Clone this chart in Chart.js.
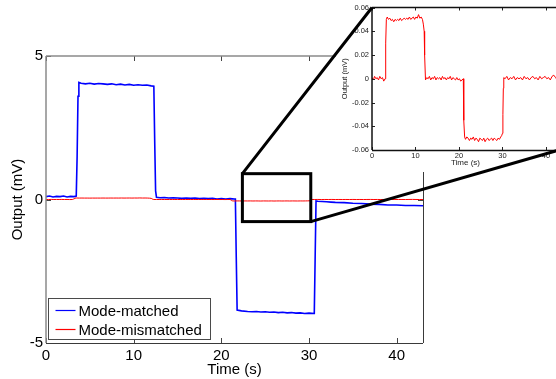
<!DOCTYPE html>
<html>
<head>
<meta charset="utf-8">
<script src="https://cdn.jsdelivr.net/npm/chart.js@4.4.0/dist/chart.umd.min.js"></script>
<style>
html, body { margin: 0; padding: 0; background: #fff; overflow: hidden; }
#wrap { position: relative; width: 556px; height: 379px; overflow: hidden; }
#main { position: absolute; left: 0; top: 0; }
#inset { position: absolute; left: 336px; top: 0; }
#links { position: absolute; left: 0; top: 0; pointer-events: none; }
</style>
</head>
<body>
<div id="wrap">
  <canvas id="main" width="556" height="379"></canvas>
  <canvas id="inset" width="240" height="172"></canvas>
  <canvas id="links" width="556" height="379"></canvas>
</div>
<script>
const seriesNames = ['Mode-matched', 'Mode-mismatched'];
const xTicks = [0, 10, 20, 30, 40];
const xTickLabels = ['0', '10', '20', '30', '40'];
const yTicks = [-5, 0, 5];
const yTickLabels = ['-5', '0', '5'];
const insetYTicks = [-0.06, -0.04, -0.02, 0, 0.02, 0.04, 0.06];
const insetYLabels = ['-0.06', '-0.04', '-0.02', '0', '0.02', '0.04', '0.06'];
// zoomed window drawn on the main plot: x from, x to, y from, y to
const zoomWindow = [22.4, 30.2, -0.77, 0.9];

// mode-matched output (mV)
const timeMatched = [0, 0.4, 0.8, 1.2, 1.6, 2.0, 2.4, 2.8, 3.2, 3.45, 3.55, 3.65, 3.75,
  4.0, 4.5, 5.0, 5.5, 6.0, 6.5, 7.0, 7.5, 8.0, 8.5, 9.0, 9.5, 10.0, 10.5, 11.0, 11.5, 12.0, 12.3,
  12.4, 12.5, 12.6, 13.0, 13.5, 14.0, 14.5, 15.0, 15.5, 16.0, 16.5, 17.0, 17.5, 18.0, 18.5,
  19.0, 19.5, 20.0, 20.5, 21.0, 21.5, 21.6, 21.7, 21.8,
  22.3, 23.0, 23.5, 24.0, 24.5, 25.0, 25.5, 26.0, 26.5, 27.0, 27.5, 28.0, 28.5, 29.0, 29.5, 30.0, 30.6,
  30.7, 30.8, 31.0, 31.5, 32.0, 32.5, 33, 34, 35, 36, 37, 38, 39, 40, 41, 42, 43];
const matched = [0.10, 0.12, 0.09, 0.11, 0.10, 0.12, 0.09, 0.11, 0.10, 0.12, 1.5, 3.6, 4.08,
  4.05, 4.03, 4.05, 4.02, 4.04, 4.03, 4.01, 4.03, 4.00, 4.02, 3.99, 4.01, 3.98, 4.00, 3.98, 3.99, 3.96, 3.95,
  2.0, 0.3, 0.08, 0.06, 0.07, 0.05, 0.06, 0.05, 0.04, 0.05, 0.04, 0.05, 0.03, 0.04, 0.03,
  0.04, 0.02, 0.03, 0.02, 0.03, 0.02, 0.02, -2.0, -3.85,
  -3.88, -3.90, -3.91, -3.90, -3.92, -3.91, -3.93, -3.92, -3.94, -3.93, -3.95, -3.94, -3.96, -3.95, -3.97, -3.96, -3.97,
  -2.0, -0.05, -0.06, -0.07, -0.08, -0.09, -0.10, -0.11, -0.13, -0.14, -0.16, -0.17, -0.19, -0.19, -0.21, -0.21, -0.22];

// mode-mismatched output (mV)
const timeMismatched = [0, 0.3, 0.6, 0.9, 1.2, 1.5, 1.8, 2.1, 2.4, 2.7, 3.0, 3.1, 3.2, 3.3,
  3.5, 3.8, 4.1, 4.4, 4.7, 5.0, 5.3, 5.6, 5.9, 6.2, 6.5, 6.8, 7.1, 7.4, 7.7, 8.0, 8.3, 8.6, 8.9,
  9.2, 9.5, 9.8, 10.1, 10.4, 10.7, 11.0, 11.3, 11.6, 11.8, 12.0, 12.1, 12.3,
  12.6, 12.9, 13.2, 13.5, 13.8, 14.1, 14.4, 14.7, 15.0, 15.3, 15.6, 15.9, 16.2, 16.5, 16.8, 17.1,
  17.4, 17.7, 18.0, 18.3, 18.6, 18.9, 19.2, 19.5, 19.8, 20.1, 20.4, 20.7, 21.0, 21.05, 21.15, 21.3,
  21.5, 21.8, 22.1, 22.4, 22.7, 23.0, 23.3, 23.6, 23.9, 24.2, 24.5, 24.8, 25.1, 25.4, 25.7, 26.0,
  26.3, 26.6, 26.9, 27.2, 27.5, 27.8, 28.1, 28.4, 28.7, 29.0, 29.3, 29.6, 29.8, 30.0, 30.1, 30.2, 30.3,
  30.6, 31.0, 31.4, 31.8, 32.2, 32.6, 33.0, 33.4, 33.8, 34.2, 34.6, 35.0, 35.4, 35.8, 36.2, 36.6,
  37.0, 37.4, 37.8, 38.2, 38.6, 39.0, 39.4, 39.8, 40.2, 40.6, 41.0, 41.4, 41.8, 42.2, 42.6, 43.0];
const mismatched = [0.001, -0.001, 0.002, 0.000, 0.001, -0.001, 0.002, 0.000, 0.001, -0.002, 0.000, 0.008, 0.030, 0.050,
  0.052, 0.050, 0.051, 0.049, 0.050, 0.048, 0.050, 0.049, 0.050, 0.049, 0.051, 0.049, 0.050, 0.051, 0.050, 0.051, 0.050, 0.052, 0.050,
  0.051, 0.052, 0.050, 0.052, 0.051, 0.054, 0.051, 0.052, 0.050, 0.046, 0.040, 0.020, -0.001,
  0.001, 0.000, 0.002, -0.001, 0.001, 0.000, 0.002, -0.001, 0.001, 0.000, 0.001, -0.001, 0.002, 0.000, 0.001, -0.001,
  0.001, 0.000, 0.002, -0.001, 0.001, 0.000, -0.001, 0.001, -0.001, 0.000, -0.002, -0.001, 0.000, -0.010, -0.035, -0.049,
  -0.051, -0.049, -0.050, -0.052, -0.050, -0.051, -0.049, -0.052, -0.050, -0.051, -0.053, -0.050, -0.051, -0.052, -0.050, -0.053,
  -0.051, -0.050, -0.052, -0.051, -0.050, -0.052, -0.050, -0.051, -0.052, -0.050, -0.051, -0.049, -0.048, -0.046, -0.030, -0.008, 0.001,
  0.000, 0.002, -0.001, 0.001, 0.000, 0.002, -0.001, 0.001, 0.000, 0.001, -0.001, 0.002, 0.000, 0.001, -0.001, 0.001,
  0.002, 0.000, 0.001, -0.001, 0.002, 0.000, 0.001, 0.002, 0.000, 0.001, -0.001, 0.002, 0.003, 0.001, -0.001, -0.001];

const FONT = '"Liberation Sans", Arial, sans-serif';
const seriesColors = ['#0000ff', '#ff0000'];

function toPoints(t, v) {
    return t.map((x, i) => ({ x: x, y: v[i] }));
}

function setTicks(values) {
    return function(scale) {
        scale.ticks = values.map(v => ({ value: v }));
    };
}

// white page behind each canvas
const whiteBg = {
    id: 'whiteBg',
    beforeDraw(chart) {
        const ctx = chart.ctx;
        ctx.save();
        ctx.fillStyle = '#fff';
        ctx.fillRect(0, 0, chart.width, chart.height);
        ctx.restore();
    }
};

// MATLAB style box with inward ticks
function boxPlugin(o) {
    return {
        id: 'box',
        afterDatasetsDraw(chart) {
            const { ctx, chartArea: a, scales } = chart;
            ctx.save();
            ctx.strokeStyle = o.tickColor;
            ctx.lineWidth = 1;
            ctx.beginPath();
            scales.x.ticks.forEach(t => {
                const px = Math.round(scales.x.getPixelForValue(t.value)) + 0.5;
                ctx.moveTo(px, a.bottom); ctx.lineTo(px, a.bottom - o.tick);
                ctx.moveTo(px, a.top); ctx.lineTo(px, a.top + o.tick);
            });
            scales.y.ticks.forEach(t => {
                const py = Math.round(scales.y.getPixelForValue(t.value)) + 0.5;
                ctx.moveTo(a.left, py); ctx.lineTo(a.left + o.tick, py);
                ctx.moveTo(a.right, py); ctx.lineTo(a.right - o.tick, py);
            });
            ctx.stroke();
            const side = (c, w, x1, y1, x2, y2) => {
                ctx.strokeStyle = c; ctx.lineWidth = w;
                ctx.beginPath(); ctx.moveTo(x1, y1); ctx.lineTo(x2, y2); ctx.stroke();
            };
            side(o.light, o.lightW, a.left, a.top, a.left, a.bottom);
            side(o.light, o.lightW, a.left, a.top, a.right, a.top);
            side(o.dark, o.darkW, a.left, a.bottom + 0.5, a.right, a.bottom + 0.5);
            side(o.dark, o.darkW, a.right + 0.5, a.top, a.right + 0.5, a.bottom);
            ctx.restore();
        }
    };
}

const zoomBox = {
    id: 'zoomBox',
    afterDatasetsDraw(chart) {
        const { ctx, scales } = chart;
        const x1 = scales.x.getPixelForValue(zoomWindow[0]);
        const x2 = scales.x.getPixelForValue(zoomWindow[1]);
        const y1 = scales.y.getPixelForValue(zoomWindow[3]);
        const y2 = scales.y.getPixelForValue(zoomWindow[2]);
        ctx.save();
        ctx.strokeStyle = '#000';
        ctx.lineWidth = 3;
        ctx.strokeRect(x1, y1, x2 - x1, y2 - y1);
        ctx.restore();
    }
};

const legendBox = {
    id: 'legendBox',
    afterDraw(chart) {
        const { ctx, chartArea: a } = chart;
        ctx.save();
        ctx.font = '15px ' + FONT;
        const textW = Math.max(...seriesNames.map(n => ctx.measureText(n).width));
        const rowH = 19;
        const w = Math.round(30 + textW + 9);
        const h = seriesNames.length * rowH + 3;
        const x0 = a.left + 2.5;
        const y0 = a.bottom - 3.5 - h;
        ctx.fillStyle = '#fff';
        ctx.fillRect(x0, y0, w, h);
        ctx.strokeStyle = '#4a4a4a';
        ctx.lineWidth = 1;
        ctx.strokeRect(x0, y0, w, h);
        seriesNames.forEach((name, i) => {
            const cy = y0 + 12 + i * rowH;
            ctx.strokeStyle = seriesColors[i];
            ctx.lineWidth = 1.2;
            ctx.beginPath();
            ctx.moveTo(x0 + 7, cy);
            ctx.lineTo(x0 + 27, cy);
            ctx.stroke();
            ctx.fillStyle = '#000';
            ctx.textBaseline = 'middle';
            ctx.fillText(name, x0 + 30, cy + 1);
        });
        ctx.restore();
    }
};

const mainChart = new Chart(document.getElementById('main'), {
    type: 'line',
    data: {
        datasets: [{
            label: seriesNames[0],
            data: toPoints(timeMatched, matched),
            borderColor: seriesColors[0],
            borderWidth: 1.6,
            pointRadius: 0,
            order: 1
        }, {
            label: seriesNames[1],
            data: toPoints(timeMismatched, mismatched),
            borderColor: seriesColors[1],
            borderWidth: 1,
            pointRadius: 0,
            order: 0
        }]
    },
    options: {
        responsive: false,
        animation: false,
        events: [],
        layout: { padding: { left: 0, top: 56, right: 133, bottom: 0 } },
        plugins: { legend: { display: false }, tooltip: { enabled: false } },
        scales: {
            x: {
                type: 'linear', min: 0, max: 43,
                afterBuildTicks: setTicks(xTicks),
                afterFit(s) { s.height = 36; },
                grid: { display: false, drawTicks: false },
                border: { display: false },
                ticks: {
                    color: '#000', padding: 4, maxRotation: 0, autoSkip: false,
                    font: { family: FONT, size: 15 },
                    callback: (v, i) => xTickLabels[i]
                },
                title: { display: true, text: 'Time (s)', color: '#000', padding: 0, font: { family: FONT, size: 15 } }
            },
            y: {
                type: 'linear', min: -5, max: 5,
                afterBuildTicks: setTicks(yTicks),
                afterFit(s) { s.width = 46; },
                grid: { display: false, drawTicks: false },
                border: { display: false },
                ticks: {
                    color: '#000', padding: 3, autoSkip: false,
                    font: { family: FONT, size: 15 },
                    callback: (v, i) => yTickLabels[i]
                },
                title: { display: true, text: 'Output (mV)', color: '#000', padding: { top: 9, bottom: 0 }, font: { family: FONT, size: 15 } }
            }
        }
    },
    plugins: [whiteBg, boxPlugin({ tick: 5, tickColor: '#444', light: '#8a8a8a', lightW: 1.5, dark: '#3a3a3a', darkW: 1 }), zoomBox, legendBox]
});

// connector lines from the zoom window to the inset
const links = {
    id: 'links',
    afterDraw(chart) {
        const c = document.getElementById('links').getContext('2d');
        c.clearRect(0, 0, 556, 379);
        const sx = mainChart.scales.x, sy = mainChart.scales.y;
        const ox = chart.canvas.offsetLeft, oy = chart.canvas.offsetTop;
        const a = chart.chartArea;
        c.strokeStyle = '#000';
        c.lineWidth = 3;
        c.beginPath();
        c.moveTo(sx.getPixelForValue(zoomWindow[0]), sy.getPixelForValue(zoomWindow[3]));
        c.lineTo(ox + a.left, oy + a.top);
        c.moveTo(sx.getPixelForValue(zoomWindow[1]), sy.getPixelForValue(zoomWindow[2]));
        c.lineTo(ox + a.right, oy + a.bottom);
        c.stroke();
    }
};

const insetChart = new Chart(document.getElementById('inset'), {
    type: 'line',
    data: {
        datasets: [{
            label: seriesNames[1],
            data: toPoints(timeMismatched, mismatched),
            borderColor: seriesColors[1],
            borderWidth: 1,
            pointRadius: 0
        }]
    },
    options: {
        responsive: false,
        animation: false,
        events: [],
        layout: { padding: { left: 0, top: 7, right: 17, bottom: 0 } },
        plugins: { legend: { display: false }, tooltip: { enabled: false } },
        scales: {
            x: {
                type: 'linear', min: 0, max: 43,
                afterBuildTicks: setTicks(xTicks),
                afterFit(s) { s.height = 22; },
                grid: { display: false, drawTicks: false },
                border: { display: false },
                ticks: {
                    color: '#222', padding: 1, maxRotation: 0, autoSkip: false,
                    font: { family: FONT, size: 7.5 },
                    callback: (v, i) => xTickLabels[i]
                },
                title: { display: true, text: 'Time (s)', color: '#222', padding: { top: 0, bottom: 4 }, font: { family: FONT, size: 8 } }
            },
            y: {
                type: 'linear', min: -0.06, max: 0.06,
                afterBuildTicks: setTicks(insetYTicks),
                afterFit(s) { s.width = 36; },
                grid: { display: false, drawTicks: false },
                border: { display: false },
                ticks: {
                    color: '#222', padding: 3, autoSkip: false,
                    font: { family: FONT, size: 7.5 },
                    callback: (v, i) => insetYLabels[i]
                },
                title: { display: true, text: 'Output (mV)', color: '#222', padding: { top: 4.5, bottom: 0 }, font: { family: FONT, size: 7.5 } }
            }
        }
    },
    plugins: [whiteBg, boxPlugin({ tick: 3, tickColor: '#222', light: '#111', lightW: 1.5, dark: '#111', darkW: 1.5 }), links]
});
</script>
</body>
</html>
